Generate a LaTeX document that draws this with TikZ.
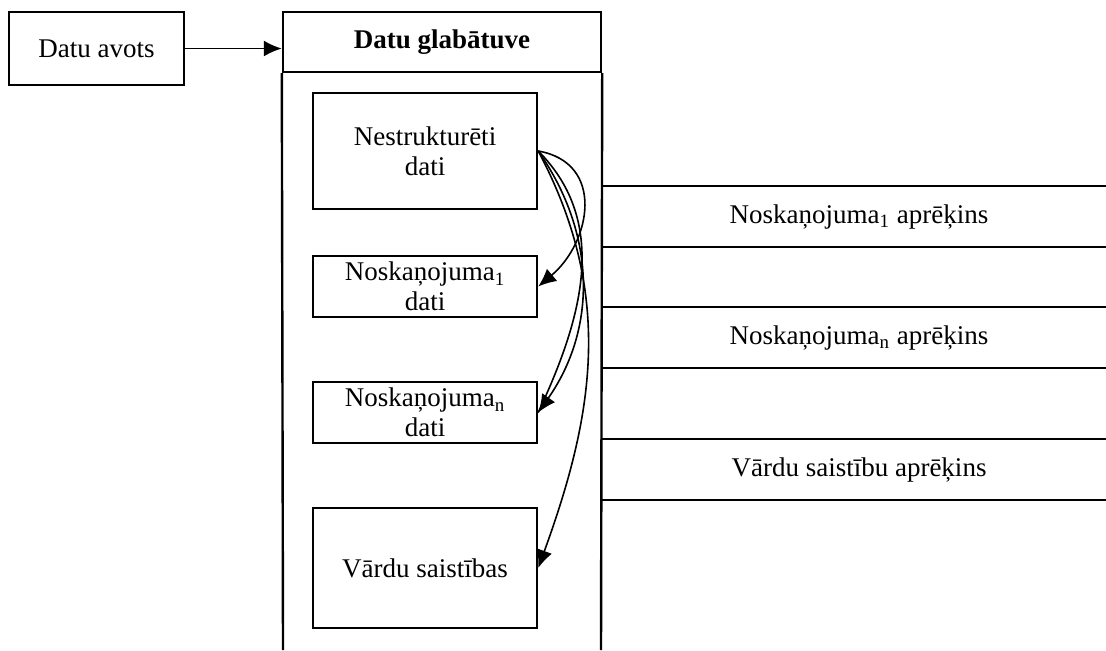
\documentclass[tikz,border=0pt]{standalone}
\usepackage{fontspec}
\setmainfont{Liberation Serif}
\usetikzlibrary{arrows.meta}

\begin{document}
\begin{tikzpicture}[x=0.5pt, y=-0.5pt,
  every node/.style={font=\fontsize{13.5}{15}\selectfont, align=center},
  blk/.style={draw=black, line width=1.2pt, inner sep=0pt},
  >={Latex[length=9pt, width=8pt]}]
\useasboundingbox (0,0) rectangle (1106,650);

\node[blk, minimum width=87.5pt, minimum height=36.5pt] (avots) at (96.5,48.5) {Datu avots};

% datu glabatuve
\node[blk, minimum width=159pt, minimum height=30pt, font=\fontsize{13.5}{15}\selectfont\bfseries] (store) at (442,42) {Datu glab\=atuve};
\draw[line width=1.2pt] (store.south west) -- (283,650);
\draw[line width=1.2pt] (store.south east) -- (601,650);
\draw[line width=0.9pt, ->] (avots.east) -- (avots.east -| store.west);

\node[blk, minimum width=112pt, minimum height=58pt] (nestr) at (425,151) {Nestrukturēti\\dati};
\node[blk, minimum width=112pt, minimum height=30.5pt] (nosk1) at (425,286.5) {Noskaņojuma\textsubscript{1}\\dati};
\node[blk, minimum width=112pt, minimum height=30.5pt] (noskn) at (425,412.5) {Noskaņojuma\textsubscript{n}\\dati};
\node[blk, minimum width=112pt, minimum height=60pt] (vardi) at (425,568) {Vārdu saistības};

\draw[line width=0.8pt, ->] (nestr.east) to[out=-10, in=40, looseness=1.3] (nosk1.east);
\draw[line width=0.8pt, ->] (nestr.east) to[out=-55, in=55] (noskn.east);
\draw[line width=0.8pt, ->] (nestr.east) to[out=-62, in=70] (vardi.east);
\draw[line width=0.8pt] (nestr.east) to[out=-45, in=65] (noskn.east);

% aprekini
\foreach \y/\txt [count=\i] in {186/{Noskaņojuma\textsubscript{1} aprēķins},
    307/{Noskaņojuma\textsubscript{n} aprēķins},
    439/{Vārdu saistību aprēķins}} {
  \draw[line width=1.1pt] (601,\y) -- (1106,\y);
  \draw[line width=1.1pt] (601,\y+61) -- (1106,\y+61);
  \node (calc\i) at (859,\y+31) {\txt};
}
\end{tikzpicture}
\end{document}
